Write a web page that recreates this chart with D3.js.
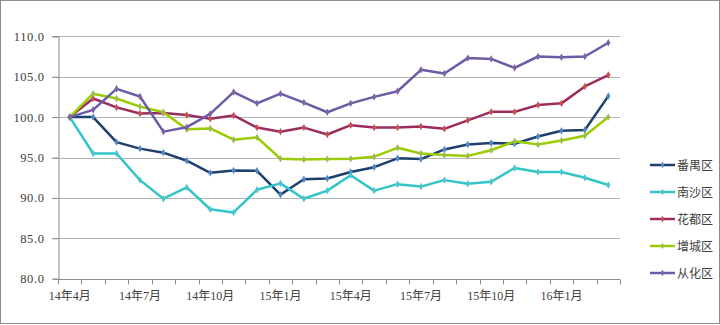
<!DOCTYPE html>
<html>
<head>
<meta charset="utf-8">
<script src="https://cdn.jsdelivr.net/npm/d3@7"></script>
<style>
  html, body { margin: 0; padding: 0; background: #fff; }
  svg { display: block; }
  text { font-family: "Liberation Serif", "Noto Sans CJK SC", serif; font-size: 12px; fill: #404040; }
</style>
</head>
<body>
<svg id="chart" width="720" height="325"></svg>
<script>
// Monthly index, Apr 2014 = 100
const months = [
  "14年4月","14年5月","14年6月","14年7月","14年8月","14年9月",
  "14年10月","14年11月","14年12月","15年1月","15年2月","15年3月",
  "15年4月","15年5月","15年6月","15年7月","15年8月","15年9月",
  "15年10月","15年11月","15年12月","16年1月","16年2月","16年3月"
];
const tickLabels = ["14年4月","14年7月","14年10月","15年1月","15年4月","15年7月","15年10月","16年1月"];
const yTicks = [80, 85, 90, 95, 100, 105, 110];

const panyu   = [100.0,100.0,96.9,96.1,95.6,94.6,93.1,93.4,93.35,90.4,92.3,92.4,93.2,93.8,94.9,94.8,96.0,96.6,96.8,96.7,97.6,98.3,98.4,102.6];
const nansha  = [100.0,95.5,95.5,92.2,89.9,91.3,88.6,88.2,91.0,91.8,89.9,90.9,92.8,90.9,91.7,91.4,92.2,91.75,92.0,93.7,93.2,93.2,92.5,91.6];
const huadu   = [100.0,102.3,101.2,100.45,100.5,100.25,99.8,100.2,98.7,98.2,98.7,97.85,99.0,98.7,98.7,98.85,98.55,99.6,100.65,100.65,101.5,101.7,103.8,105.2];
const zengcheng = [100.0,102.9,102.3,101.3,100.6,98.5,98.6,97.2,97.5,94.85,94.75,94.8,94.85,95.1,96.2,95.5,95.3,95.2,95.9,97.0,96.6,97.1,97.7,100.0];
const conghua = [100.0,100.9,103.5,102.55,98.2,98.75,100.4,103.1,101.7,102.9,101.8,100.6,101.7,102.5,103.2,105.85,105.4,107.3,107.2,106.1,107.5,107.4,107.5,109.2];

const seriesNames  = ["番禺区","南沙区","花都区","增城区","从化区"];
const seriesValues = [panyu, nansha, huadu, zengcheng, conghua];
const lineColors   = ["#1f3f6e","#33c4c8","#9b2d5e","#9acd00","#6a5ca6"];
const markerColors = ["#4f86c6","#4bc6cc","#c4504d","#9bbb59","#8064a2"];

const svg = d3.select("#chart");
const W = 720, H = 325;
const plot = { left: 58, right: 620, top: 36.3, bottom: 278.7 };

// outer frame
svg.append("rect")
  .attr("x", 0.5).attr("y", 0.5).attr("width", W - 1).attr("height", 323)
  .attr("fill", "none").attr("stroke", "#8c8c8c").attr("stroke-width", 1);

const x = d3.scaleBand().domain(months).range([plot.left, plot.right]).padding(0);
const y = d3.scaleLinear().domain([80, 110]).range([plot.bottom, plot.top]);

// horizontal gridlines
svg.append("g")
  .selectAll("line")
  .data(yTicks.filter(v => v > 80))
  .join("line")
  .attr("x1", plot.left - 6).attr("x2", plot.right)
  .attr("y1", d => Math.round(y(d)) + 0.5).attr("y2", d => Math.round(y(d)) + 0.5)
  .attr("stroke", "#b4b4b4").attr("stroke-width", 1);

// y axis
const yAxis = d3.axisLeft(y).tickValues(yTicks).tickSize(6).tickPadding(8)
  .tickFormat(d => d3.format(".1f")(d));
const gy = svg.append("g").attr("transform", `translate(${plot.left + 0.5},0)`).call(yAxis);
gy.select(".domain").attr("stroke", "#8c8c8c");
gy.selectAll(".tick line").attr("stroke", "#8c8c8c");
gy.selectAll(".tick text").attr("fill", "#404040")
  .style("font-family", '"Liberation Serif", serif').style("font-size", "12.5px")
  .style("letter-spacing", "0.6px");

// x axis: ticks at band boundaries, labels every third month
const gx = svg.append("g").attr("transform", `translate(0,${Math.round(plot.bottom) + 0.5})`);
gx.append("line").attr("x1", plot.left).attr("x2", plot.right).attr("stroke", "#8c8c8c");
const boundaries = months.map(m => x(m)).concat([plot.right]);
gx.selectAll("line.tk").data(boundaries).join("line").attr("class", "tk")
  .attr("x1", d => Math.round(d) + 0.5).attr("x2", d => Math.round(d) + 0.5)
  .attr("y1", 0).attr("y2", 5).attr("stroke", "#8c8c8c");
gx.selectAll("text").data(tickLabels).join("text")
  .attr("x", d => x(d) + x.bandwidth() / 2)
  .attr("y", 20)
  .attr("text-anchor", "middle")
  .text(d => d);

// series lines and markers
const line = d3.line()
  .x((d, i) => x(months[i]) + x.bandwidth() / 2)
  .y(d => y(d));

seriesValues.forEach((vals, s) => {
  const g = svg.append("g");
  g.append("path").datum(vals)
    .attr("d", line)
    .attr("fill", "none")
    .attr("stroke", lineColors[s])
    .attr("stroke-width", 2.5)
    .attr("stroke-linejoin", "round");
  g.selectAll("path.mk").data(vals).join("path").attr("class", "mk")
    .attr("d", d3.symbol(d3.symbolDiamond, 16))
    .attr("transform", (d, i) => `translate(${x(months[i]) + x.bandwidth() / 2},${y(d)})`)
    .attr("fill", markerColors[s]);
});

// legend
const legend = svg.append("g");
seriesNames.forEach((name, s) => {
  const ly = 165 + s * 27;
  legend.append("line").attr("x1", 650).attr("x2", 675)
    .attr("y1", ly).attr("y2", ly)
    .attr("stroke", lineColors[s]).attr("stroke-width", 2.5);
  legend.append("path").attr("d", d3.symbol(d3.symbolDiamond, 12))
    .attr("transform", `translate(662.5,${ly})`).attr("fill", markerColors[s]);
  legend.append("text").attr("x", 677).attr("y", ly + 4.5)
    .style("font-family", '"Noto Sans CJK SC", sans-serif').style("font-size", "12px")
    .text(name);
});
</script>
</body>
</html>
